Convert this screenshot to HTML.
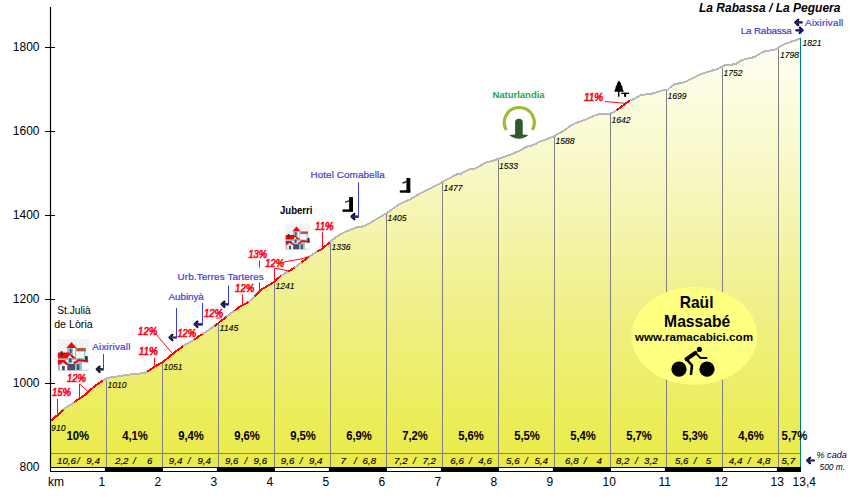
<!DOCTYPE html><html><head><meta charset="utf-8"><style>html,body{margin:0;padding:0;background:#fff;}svg{display:block;}</style></head><body>
<svg width="850" height="500" viewBox="0 0 850 500" font-family='"Liberation Sans", sans-serif'>
<defs><linearGradient id="fg" gradientUnits="userSpaceOnUse" x1="0" y1="38" x2="0" y2="467"><stop offset="0" stop-color="#FFFFF6"/><stop offset="0.331" stop-color="#F7F7C2"/><stop offset="0.611" stop-color="#F0F08C"/><stop offset="0.9" stop-color="#ECEC58"/><stop offset="1" stop-color="#EAEA48"/></linearGradient></defs>
<polygon points="50,421.5 55,417 58,415 60,413 63.5,409.6 65,408 70,405 74,402.5 75,401.5 80,398 85,395 90,390 95,386 100,382.5 103,380.5 105,379.3 108,377.8 115,376.8 120,376 125,375.2 130,374.5 135,374 140,373.5 144,373.2 147.5,371.6 155,366.5 160,363.5 162.5,362.2 170,356.2 175,352 180,348.5 183,346 190,342 194.5,339.6 200,335.5 202.5,334.4 210,329 214.5,326 218,323.5 220,321.5 223,319.5 226.3,316.8 230,314 234.5,310.8 240,306.5 245,304 248.3,302 252,299 255,296.4 262,289.2 269,285 274,282 281.2,275.4 288.4,271.5 294.4,267.6 301.6,262.2 308.8,256.8 317.2,251.4 322,249 329.5,242.3 335,238 340,234.5 345,232 350,230 355,228 359,226.8 362,226.8 365,225.5 370,223 375,220 380,217 385,214 390,211 395,207 400,204 405,201.5 410,199.5 415,196.5 420,193.5 425,191 430,188.5 435,186 440,183.5 445,180.5 450,178 455,175.2 458,173.7 461,173.7 465,171.5 470,169 475,168.5 480,166 485,162.8 490,161.6 495,160 498,159 500,158.4 505,156.5 510,155 515,152.8 520,150.5 525,147.8 527,146.6 530,146 535,144.2 540,141.6 545,139.8 550,138 554,136.2 557.5,134.3 560,132.8 565,130 570,126 575,123.5 580,121.5 585,120 590,117.5 595,115.5 598,114.5 605,114.3 610,113.5 613,112.5 616.5,110.2 630,100.5 635,98.5 640,95.5 645,94.5 650,94 655,93 660,91 665,89.8 668,89.5 670,87.5 675,84.2 680,83.2 685,82 690,79.5 695,77 700,74.5 705,73 710,71 715,70 720,68 723,66 725,65.3 730,65 735,64 738,63 740,61 745,59.2 750,58 755,57 760,53.5 765,51.2 770,50.5 775,49.5 778,48 780,46.5 785,44 790,42 795,40.5 800,38.5 800,467 50,467" fill="url(#fg)"/>
<line x1="50" y1="453.5" x2="800" y2="453.5" stroke="#808080" stroke-width="1"/>
<line x1="106.5" y1="378.8" x2="106.5" y2="467" stroke="#808080" stroke-width="1"/>
<line x1="162.5" y1="362.5" x2="162.5" y2="467" stroke="#808080" stroke-width="1"/>
<line x1="218.5" y1="323.5" x2="218.5" y2="467" stroke="#808080" stroke-width="1"/>
<line x1="274.5" y1="282.0" x2="274.5" y2="467" stroke="#808080" stroke-width="1"/>
<line x1="330.5" y1="241.9" x2="330.5" y2="467" stroke="#808080" stroke-width="1"/>
<line x1="386.5" y1="213.4" x2="386.5" y2="467" stroke="#808080" stroke-width="1"/>
<line x1="442.5" y1="182.3" x2="442.5" y2="467" stroke="#808080" stroke-width="1"/>
<line x1="498.5" y1="159.0" x2="498.5" y2="467" stroke="#808080" stroke-width="1"/>
<line x1="554.5" y1="136.2" x2="554.5" y2="467" stroke="#808080" stroke-width="1"/>
<line x1="610.5" y1="113.5" x2="610.5" y2="467" stroke="#808080" stroke-width="1"/>
<line x1="666.5" y1="89.7" x2="666.5" y2="467" stroke="#808080" stroke-width="1"/>
<line x1="722.5" y1="66.7" x2="722.5" y2="467" stroke="#808080" stroke-width="1"/>
<line x1="778.5" y1="48.0" x2="778.5" y2="467" stroke="#808080" stroke-width="1"/>
<line x1="800.5" y1="38" x2="800.5" y2="467" stroke="#008080" stroke-width="1"/>
<polyline points="50,421.5 55,417 58,415 60,413 63.5,409.6" fill="none" stroke="#FF0010" stroke-width="2" stroke-linejoin="round" stroke-linecap="butt" shape-rendering="crispEdges"/>
<polyline points="63.5,409.6 65,408 70,405 74,402.5" fill="none" stroke="#B8B8B8" stroke-width="2" stroke-linejoin="round" stroke-linecap="butt" shape-rendering="crispEdges"/>
<polyline points="74,402.5 75,401.5 80,398 85,395 90,390 95,386 100,382.5 103,380.5" fill="none" stroke="#FF0010" stroke-width="2" stroke-linejoin="round" stroke-linecap="butt" shape-rendering="crispEdges"/>
<polyline points="103,380.5 105,379.3 108,377.8 115,376.8 120,376 125,375.2 130,374.5 135,374 140,373.5 144,373.2 147.5,371.6" fill="none" stroke="#B8B8B8" stroke-width="2" stroke-linejoin="round" stroke-linecap="butt" shape-rendering="crispEdges"/>
<polyline points="147.5,371.6 155,366.5 160,363.5 162.5,362.2 170,356.2 175,352 180,348.5 183,346" fill="none" stroke="#FF0010" stroke-width="2" stroke-linejoin="round" stroke-linecap="butt" shape-rendering="crispEdges"/>
<polyline points="183,346 190,342 194.5,339.6" fill="none" stroke="#B8B8B8" stroke-width="2" stroke-linejoin="round" stroke-linecap="butt" shape-rendering="crispEdges"/>
<polyline points="194.5,339.6 200,335.5 202.5,334.4" fill="none" stroke="#FF0010" stroke-width="2" stroke-linejoin="round" stroke-linecap="butt" shape-rendering="crispEdges"/>
<polyline points="202.5,334.4 210,329 214.5,326" fill="none" stroke="#B8B8B8" stroke-width="2" stroke-linejoin="round" stroke-linecap="butt" shape-rendering="crispEdges"/>
<polyline points="214.5,326 218,323.5 220,321.5 223,319.5 226.3,316.8" fill="none" stroke="#FF0010" stroke-width="2" stroke-linejoin="round" stroke-linecap="butt" shape-rendering="crispEdges"/>
<polyline points="226.3,316.8 230,314 234.5,310.8" fill="none" stroke="#B8B8B8" stroke-width="2" stroke-linejoin="round" stroke-linecap="butt" shape-rendering="crispEdges"/>
<polyline points="234.5,310.8 240,306.5 245,304 248.3,302" fill="none" stroke="#FF0010" stroke-width="2" stroke-linejoin="round" stroke-linecap="butt" shape-rendering="crispEdges"/>
<polyline points="248.3,302 252,299 255,296.4" fill="none" stroke="#B8B8B8" stroke-width="2" stroke-linejoin="round" stroke-linecap="butt" shape-rendering="crispEdges"/>
<polyline points="255,296.4 262,289.2 269,285 274,282 281.2,275.4" fill="none" stroke="#FF0010" stroke-width="2" stroke-linejoin="round" stroke-linecap="butt" shape-rendering="crispEdges"/>
<polyline points="281.2,275.4 288.4,271.5" fill="none" stroke="#B8B8B8" stroke-width="2" stroke-linejoin="round" stroke-linecap="butt" shape-rendering="crispEdges"/>
<polyline points="288.4,271.5 294.4,267.6" fill="none" stroke="#FF0010" stroke-width="2" stroke-linejoin="round" stroke-linecap="butt" shape-rendering="crispEdges"/>
<polyline points="294.4,267.6 301.6,262.2" fill="none" stroke="#B8B8B8" stroke-width="2" stroke-linejoin="round" stroke-linecap="butt" shape-rendering="crispEdges"/>
<polyline points="301.6,262.2 308.8,256.8" fill="none" stroke="#FF0010" stroke-width="2" stroke-linejoin="round" stroke-linecap="butt" shape-rendering="crispEdges"/>
<polyline points="308.8,256.8 317.2,251.4" fill="none" stroke="#B8B8B8" stroke-width="2" stroke-linejoin="round" stroke-linecap="butt" shape-rendering="crispEdges"/>
<polyline points="317.2,251.4 322,249 329.5,242.3" fill="none" stroke="#FF0010" stroke-width="2" stroke-linejoin="round" stroke-linecap="butt" shape-rendering="crispEdges"/>
<polyline points="329.5,242.3 335,238 340,234.5 345,232 350,230 355,228 359,226.8 362,226.8 365,225.5 370,223 375,220 380,217 385,214 390,211 395,207 400,204 405,201.5 410,199.5 415,196.5 420,193.5 425,191 430,188.5 435,186 440,183.5 445,180.5 450,178 455,175.2 458,173.7 461,173.7 465,171.5 470,169 475,168.5 480,166 485,162.8 490,161.6 495,160 498,159 500,158.4 505,156.5 510,155 515,152.8 520,150.5 525,147.8 527,146.6 530,146 535,144.2 540,141.6 545,139.8 550,138 554,136.2 557.5,134.3 560,132.8 565,130 570,126 575,123.5 580,121.5 585,120 590,117.5 595,115.5 598,114.5 605,114.3 610,113.5 613,112.5 616.5,110.2" fill="none" stroke="#B8B8B8" stroke-width="2" stroke-linejoin="round" stroke-linecap="butt" shape-rendering="crispEdges"/>
<polyline points="616.5,110.2 630,100.5" fill="none" stroke="#FF0010" stroke-width="2" stroke-linejoin="round" stroke-linecap="butt" shape-rendering="crispEdges"/>
<polyline points="630,100.5 635,98.5 640,95.5 645,94.5 650,94 655,93 660,91 665,89.8 668,89.5 670,87.5 675,84.2 680,83.2 685,82 690,79.5 695,77 700,74.5 705,73 710,71 715,70 720,68 723,66 725,65.3 730,65 735,64 738,63 740,61 745,59.2 750,58 755,57 760,53.5 765,51.2 770,50.5 775,49.5 778,48 780,46.5 785,44 790,42 795,40.5 800,38.5" fill="none" stroke="#B8B8B8" stroke-width="2" stroke-linejoin="round" stroke-linecap="butt" shape-rendering="crispEdges"/>
<line x1="50.5" y1="7" x2="50.5" y2="471" stroke="#000" stroke-width="1.2"/>
<line x1="45" y1="383.5" x2="55" y2="383.5" stroke="#000" stroke-width="1"/>
<line x1="45" y1="299.5" x2="55" y2="299.5" stroke="#000" stroke-width="1"/>
<line x1="45" y1="215.5" x2="55" y2="215.5" stroke="#000" stroke-width="1"/>
<line x1="45" y1="131.5" x2="55" y2="131.5" stroke="#000" stroke-width="1"/>
<line x1="45" y1="47.5" x2="55" y2="47.5" stroke="#000" stroke-width="1"/>
<text x="39.5" y="471.2" font-size="12" text-anchor="end" fill="#000">800</text>
<text x="39.5" y="387.2" font-size="12" text-anchor="end" fill="#000">1000</text>
<text x="39.5" y="303.2" font-size="12" text-anchor="end" fill="#000">1200</text>
<text x="39.5" y="219.2" font-size="12" text-anchor="end" fill="#000">1400</text>
<text x="39.5" y="135.2" font-size="12" text-anchor="end" fill="#000">1600</text>
<text x="39.5" y="51.2" font-size="12" text-anchor="end" fill="#000">1800</text>
<rect x="50" y="467" width="751" height="5" fill="#000"/>
<rect x="51" y="468" width="54" height="3" fill="#fff"/>
<rect x="163" y="468" width="54" height="3" fill="#fff"/>
<rect x="275" y="468" width="54" height="3" fill="#fff"/>
<rect x="387" y="468" width="54" height="3" fill="#fff"/>
<rect x="499" y="468" width="54" height="3" fill="#fff"/>
<rect x="611" y="468" width="54" height="3" fill="#fff"/>
<rect x="723" y="468" width="54" height="3" fill="#fff"/>
<text x="48" y="486" font-size="12" fill="#000">km</text>
<text x="98.5" y="486" font-size="12" fill="#000">1</text>
<text x="154.5" y="486" font-size="12" fill="#000">2</text>
<text x="210.5" y="486" font-size="12" fill="#000">3</text>
<text x="266.5" y="486" font-size="12" fill="#000">4</text>
<text x="322.5" y="486" font-size="12" fill="#000">5</text>
<text x="378.5" y="486" font-size="12" fill="#000">6</text>
<text x="434.5" y="486" font-size="12" fill="#000">7</text>
<text x="490.5" y="486" font-size="12" fill="#000">8</text>
<text x="546.5" y="486" font-size="12" fill="#000">9</text>
<text x="602.5" y="486" font-size="12" fill="#000">10</text>
<text x="658.5" y="486" font-size="12" fill="#000">11</text>
<text x="714.5" y="486" font-size="12" fill="#000">12</text>
<text x="770.5" y="486" font-size="12" fill="#000">13</text>
<text x="792.6" y="486" font-size="12" fill="#000">13,4</text>
<text x="77.7" y="439.8" font-size="12" font-weight="bold" text-anchor="middle" fill="#000" textLength="22.62" lengthAdjust="spacingAndGlyphs">10%</text>
<text x="135" y="439.8" font-size="12" font-weight="bold" text-anchor="middle" fill="#000" textLength="25.75" lengthAdjust="spacingAndGlyphs">4,1%</text>
<text x="191" y="439.8" font-size="12" font-weight="bold" text-anchor="middle" fill="#000" textLength="25.75" lengthAdjust="spacingAndGlyphs">9,4%</text>
<text x="247" y="439.8" font-size="12" font-weight="bold" text-anchor="middle" fill="#000" textLength="25.75" lengthAdjust="spacingAndGlyphs">9,6%</text>
<text x="303" y="439.8" font-size="12" font-weight="bold" text-anchor="middle" fill="#000" textLength="25.75" lengthAdjust="spacingAndGlyphs">9,5%</text>
<text x="359" y="439.8" font-size="12" font-weight="bold" text-anchor="middle" fill="#000" textLength="25.75" lengthAdjust="spacingAndGlyphs">6,9%</text>
<text x="415" y="439.8" font-size="12" font-weight="bold" text-anchor="middle" fill="#000" textLength="25.75" lengthAdjust="spacingAndGlyphs">7,2%</text>
<text x="471" y="439.8" font-size="12" font-weight="bold" text-anchor="middle" fill="#000" textLength="25.75" lengthAdjust="spacingAndGlyphs">5,6%</text>
<text x="527" y="439.8" font-size="12" font-weight="bold" text-anchor="middle" fill="#000" textLength="25.75" lengthAdjust="spacingAndGlyphs">5,5%</text>
<text x="583" y="439.8" font-size="12" font-weight="bold" text-anchor="middle" fill="#000" textLength="25.75" lengthAdjust="spacingAndGlyphs">5,4%</text>
<text x="639" y="439.8" font-size="12" font-weight="bold" text-anchor="middle" fill="#000" textLength="25.75" lengthAdjust="spacingAndGlyphs">5,7%</text>
<text x="695" y="439.8" font-size="12" font-weight="bold" text-anchor="middle" fill="#000" textLength="25.75" lengthAdjust="spacingAndGlyphs">5,3%</text>
<text x="751" y="439.8" font-size="12" font-weight="bold" text-anchor="middle" fill="#000" textLength="25.75" lengthAdjust="spacingAndGlyphs">4,6%</text>
<text x="781.6" y="439.8" font-size="12" font-weight="bold" fill="#000" textLength="25.75" lengthAdjust="spacingAndGlyphs">5,7%</text>
<text x="57.0" y="463.8" font-size="9.7" font-style="italic" fill="#000" stroke="#000" stroke-width="0.15">10,6</text>
<text x="77.1" y="463.8" font-size="9.7" font-style="italic" fill="#000" stroke="#000" stroke-width="0.15">/</text>
<text x="86.3" y="463.8" font-size="9.7" font-style="italic" fill="#000" stroke="#000" stroke-width="0.15">9,4</text>
<text x="115.0" y="463.8" font-size="9.7" font-style="italic" fill="#000" stroke="#000" stroke-width="0.15">2,2</text>
<text x="133.0" y="463.8" font-size="9.7" font-style="italic" fill="#000" stroke="#000" stroke-width="0.15">/</text>
<text x="147.0" y="463.8" font-size="9.7" font-style="italic" fill="#000" stroke="#000" stroke-width="0.15">6</text>
<text x="168.8" y="463.8" font-size="9.7" font-style="italic" fill="#000" stroke="#000" stroke-width="0.15">9,4</text>
<text x="187.8" y="463.8" font-size="9.7" font-style="italic" fill="#000" stroke="#000" stroke-width="0.15">/</text>
<text x="197.4" y="463.8" font-size="9.7" font-style="italic" fill="#000" stroke="#000" stroke-width="0.15">9,4</text>
<text x="225.0" y="463.8" font-size="9.7" font-style="italic" fill="#000" stroke="#000" stroke-width="0.15">9,6</text>
<text x="244.4" y="463.8" font-size="9.7" font-style="italic" fill="#000" stroke="#000" stroke-width="0.15">/</text>
<text x="253.6" y="463.8" font-size="9.7" font-style="italic" fill="#000" stroke="#000" stroke-width="0.15">9,6</text>
<text x="280.8" y="463.8" font-size="9.7" font-style="italic" fill="#000" stroke="#000" stroke-width="0.15">9,6</text>
<text x="299.8" y="463.8" font-size="9.7" font-style="italic" fill="#000" stroke="#000" stroke-width="0.15">/</text>
<text x="309.0" y="463.8" font-size="9.7" font-style="italic" fill="#000" stroke="#000" stroke-width="0.15">9,4</text>
<text x="340.4" y="463.8" font-size="9.7" font-style="italic" fill="#000" stroke="#000" stroke-width="0.15">7</text>
<text x="354.1" y="463.8" font-size="9.7" font-style="italic" fill="#000" stroke="#000" stroke-width="0.15">/</text>
<text x="362.6" y="463.8" font-size="9.7" font-style="italic" fill="#000" stroke="#000" stroke-width="0.15">6,8</text>
<text x="394.1" y="463.8" font-size="9.7" font-style="italic" fill="#000" stroke="#000" stroke-width="0.15">7,2</text>
<text x="413.1" y="463.8" font-size="9.7" font-style="italic" fill="#000" stroke="#000" stroke-width="0.15">/</text>
<text x="422.4" y="463.8" font-size="9.7" font-style="italic" fill="#000" stroke="#000" stroke-width="0.15">7,2</text>
<text x="450.3" y="463.8" font-size="9.7" font-style="italic" fill="#000" stroke="#000" stroke-width="0.15">6,6</text>
<text x="469.1" y="463.8" font-size="9.7" font-style="italic" fill="#000" stroke="#000" stroke-width="0.15">/</text>
<text x="478.3" y="463.8" font-size="9.7" font-style="italic" fill="#000" stroke="#000" stroke-width="0.15">4,6</text>
<text x="506.1" y="463.8" font-size="9.7" font-style="italic" fill="#000" stroke="#000" stroke-width="0.15">5,6</text>
<text x="525.1" y="463.8" font-size="9.7" font-style="italic" fill="#000" stroke="#000" stroke-width="0.15">/</text>
<text x="534.4" y="463.8" font-size="9.7" font-style="italic" fill="#000" stroke="#000" stroke-width="0.15">5,4</text>
<text x="565.1" y="463.8" font-size="9.7" font-style="italic" fill="#000" stroke="#000" stroke-width="0.15">6,8</text>
<text x="583.8" y="463.8" font-size="9.7" font-style="italic" fill="#000" stroke="#000" stroke-width="0.15">/</text>
<text x="596.5" y="463.8" font-size="9.7" font-style="italic" fill="#000" stroke="#000" stroke-width="0.15">4</text>
<text x="616.0" y="463.8" font-size="9.7" font-style="italic" fill="#000" stroke="#000" stroke-width="0.15">8,2</text>
<text x="635.1" y="463.8" font-size="9.7" font-style="italic" fill="#000" stroke="#000" stroke-width="0.15">/</text>
<text x="644.1" y="463.8" font-size="9.7" font-style="italic" fill="#000" stroke="#000" stroke-width="0.15">3,2</text>
<text x="675.0" y="463.8" font-size="9.7" font-style="italic" fill="#000" stroke="#000" stroke-width="0.15">5,6</text>
<text x="693.8" y="463.8" font-size="9.7" font-style="italic" fill="#000" stroke="#000" stroke-width="0.15">/</text>
<text x="705.7" y="463.8" font-size="9.7" font-style="italic" fill="#000" stroke="#000" stroke-width="0.15">5</text>
<text x="728.8" y="463.8" font-size="9.7" font-style="italic" fill="#000" stroke="#000" stroke-width="0.15">4,4</text>
<text x="747.8" y="463.8" font-size="9.7" font-style="italic" fill="#000" stroke="#000" stroke-width="0.15">/</text>
<text x="757.0" y="463.8" font-size="9.7" font-style="italic" fill="#000" stroke="#000" stroke-width="0.15">4,8</text>
<text x="781.6" y="463.8" font-size="9.7" font-style="italic" fill="#000" stroke="#000" stroke-width="0.15">5,7</text>
<text x="51.1" y="430.6" font-size="8.6" font-style="italic" fill="#000" stroke="#000" stroke-width="0.12" textLength="14.5" lengthAdjust="spacingAndGlyphs">910</text>
<text x="107.4" y="387.5" font-size="8.6" font-style="italic" fill="#000" stroke="#000" stroke-width="0.12" textLength="19" lengthAdjust="spacingAndGlyphs">1010</text>
<text x="163.4" y="369.8" font-size="8.6" font-style="italic" fill="#000" stroke="#000" stroke-width="0.12" textLength="19" lengthAdjust="spacingAndGlyphs">1051</text>
<text x="219.4" y="330.7" font-size="8.6" font-style="italic" fill="#000" stroke="#000" stroke-width="0.12" textLength="19" lengthAdjust="spacingAndGlyphs">1145</text>
<text x="275.4" y="288.8" font-size="8.6" font-style="italic" fill="#000" stroke="#000" stroke-width="0.12" textLength="19" lengthAdjust="spacingAndGlyphs">1241</text>
<text x="331.5" y="250.1" font-size="8.6" font-style="italic" fill="#000" stroke="#000" stroke-width="0.12" textLength="19" lengthAdjust="spacingAndGlyphs">1336</text>
<text x="387.4" y="220.5" font-size="8.6" font-style="italic" fill="#000" stroke="#000" stroke-width="0.12" textLength="19" lengthAdjust="spacingAndGlyphs">1405</text>
<text x="443.4" y="191" font-size="8.6" font-style="italic" fill="#000" stroke="#000" stroke-width="0.12" textLength="19" lengthAdjust="spacingAndGlyphs">1477</text>
<text x="498.9" y="168.8" font-size="8.6" font-style="italic" fill="#000" stroke="#000" stroke-width="0.12" textLength="19" lengthAdjust="spacingAndGlyphs">1533</text>
<text x="555.4" y="143.8" font-size="8.6" font-style="italic" fill="#000" stroke="#000" stroke-width="0.12" textLength="19" lengthAdjust="spacingAndGlyphs">1588</text>
<text x="611.4" y="123" font-size="8.6" font-style="italic" fill="#000" stroke="#000" stroke-width="0.12" textLength="19" lengthAdjust="spacingAndGlyphs">1642</text>
<text x="667.4" y="98.8" font-size="8.6" font-style="italic" fill="#000" stroke="#000" stroke-width="0.12" textLength="19" lengthAdjust="spacingAndGlyphs">1699</text>
<text x="723.4" y="75.8" font-size="8.6" font-style="italic" fill="#000" stroke="#000" stroke-width="0.12" textLength="19" lengthAdjust="spacingAndGlyphs">1752</text>
<text x="779.9" y="57.5" font-size="8.6" font-style="italic" fill="#000" stroke="#000" stroke-width="0.12" textLength="19" lengthAdjust="spacingAndGlyphs">1798</text>
<text x="802.4" y="45.6" font-size="8.6" font-style="italic" fill="#000" stroke="#000" stroke-width="0.12" textLength="19" lengthAdjust="spacingAndGlyphs">1821</text>
<text x="699" y="11.6" font-size="12" font-weight="bold" font-style="italic" fill="#000">La Rabassa / La Peguera</text>
<text x="51.900000000000006" y="395.6" font-size="10.7" font-weight="normal" font-style="italic" fill="#FF0818" text-anchor="start" textLength="19.0" lengthAdjust="spacingAndGlyphs" stroke="#FF0818" stroke-width="0.65" >15%</text>
<polyline points="57.5,399 57.5,414" fill="none" stroke="#FF0818" stroke-width="1"/>
<text x="66.9" y="381.8" font-size="10.7" font-weight="normal" font-style="italic" fill="#FF0818" text-anchor="start" textLength="19.0" lengthAdjust="spacingAndGlyphs" stroke="#FF0818" stroke-width="0.65" >12%</text>
<polyline points="79.5,397 79.5,384 87.8,391" fill="none" stroke="#FF0818" stroke-width="1"/>
<text x="138.7" y="354.9" font-size="10.7" font-weight="normal" font-style="italic" fill="#FF0818" text-anchor="start" textLength="19.3" lengthAdjust="spacingAndGlyphs" stroke="#FF0818" stroke-width="0.65" >11%</text>
<polyline points="154.5,357.7 154.5,365.5" fill="none" stroke="#FF0818" stroke-width="1"/>
<text x="138.1" y="335" font-size="10.7" font-weight="normal" font-style="italic" fill="#FF0818" text-anchor="start" textLength="19.2" lengthAdjust="spacingAndGlyphs" stroke="#FF0818" stroke-width="0.65" >12%</text>
<polyline points="155,333 171.9,352.9" fill="none" stroke="#FF0818" stroke-width="1"/>
<text x="177.39999999999998" y="336.7" font-size="10.7" font-weight="normal" font-style="italic" fill="#FF0818" text-anchor="start" textLength="18.7" lengthAdjust="spacingAndGlyphs" stroke="#FF0818" stroke-width="0.65" >12%</text>
<text x="203.89999999999998" y="317.1" font-size="10.7" font-weight="normal" font-style="italic" fill="#FF0818" text-anchor="start" textLength="19.2" lengthAdjust="spacingAndGlyphs" stroke="#FF0818" stroke-width="0.65" >12%</text>
<polyline points="216.4,318 222,318" fill="none" stroke="#FF0818" stroke-width="1"/>
<text x="235.1" y="292" font-size="10.7" font-weight="normal" font-style="italic" fill="#FF0818" text-anchor="start" textLength="19.3" lengthAdjust="spacingAndGlyphs" stroke="#FF0818" stroke-width="0.65" >12%</text>
<polyline points="242.5,294.5 242.5,304.5" fill="none" stroke="#FF0818" stroke-width="1"/>
<text x="248.39999999999998" y="258" font-size="10.7" font-weight="normal" font-style="italic" fill="#FF0818" text-anchor="start" textLength="18.6" lengthAdjust="spacingAndGlyphs" stroke="#FF0818" stroke-width="0.65" >13%</text>
<polyline points="259.5,260.5 259.5,292" fill="none" stroke="#FF0818" stroke-width="1"/>
<text x="265.3" y="266.9" font-size="10.7" font-weight="normal" font-style="italic" fill="#FF0818" text-anchor="start" textLength="18.6" lengthAdjust="spacingAndGlyphs" stroke="#FF0818" stroke-width="0.65" >12%</text>
<polyline points="283.2,262.4 286,261.6 302,258.8 307.6,256.8" fill="none" stroke="#FF0818" stroke-width="1"/>
<polyline points="274.5,282 274.5,268.5 277.2,268.5 289.2,271.2" fill="none" stroke="#FF0818" stroke-width="1"/>
<text x="315.0" y="229.8" font-size="10.7" font-weight="normal" font-style="italic" fill="#FF0818" text-anchor="start" textLength="18.6" lengthAdjust="spacingAndGlyphs" stroke="#FF0818" stroke-width="0.65" >11%</text>
<polyline points="322.5,231.9 322.5,247.3" fill="none" stroke="#FF0818" stroke-width="1"/>
<text x="583.9000000000001" y="100.6" font-size="10.7" font-weight="normal" font-style="italic" fill="#FF0818" text-anchor="start" textLength="19.3" lengthAdjust="spacingAndGlyphs" stroke="#FF0818" stroke-width="0.65" >11%</text>
<polyline points="605,101.5 624.8,103.3" fill="none" stroke="#FF0818" stroke-width="1"/>
<path d="M103.0,369.3 L96.7,369.3 M99.60000000000001,366.6 L96.7,369.3 L99.60000000000001,372.0" fill="none" stroke="#000" stroke-width="2.2" stroke-linejoin="round" stroke-linecap="round"/>
<path d="M103.0,369.3 L96.7,369.3 M99.60000000000001,366.6 L96.7,369.3 L99.60000000000001,372.0" fill="none" stroke="#3434D0" stroke-width="0.8" stroke-linejoin="round" stroke-linecap="butt"/>
<line x1="103.5" y1="354" x2="103.5" y2="370.3" stroke="#3C3CE0" stroke-width="1"/>
<path d="M176.0,337.5 L169.5,337.5 M172.4,334.8 L169.5,337.5 L172.4,340.2" fill="none" stroke="#000" stroke-width="2.2" stroke-linejoin="round" stroke-linecap="round"/>
<path d="M176.0,337.5 L169.5,337.5 M172.4,334.8 L169.5,337.5 L172.4,340.2" fill="none" stroke="#3434D0" stroke-width="0.8" stroke-linejoin="round" stroke-linecap="butt"/>
<line x1="176.5" y1="308" x2="176.5" y2="338.5" stroke="#3C3CE0" stroke-width="1"/>
<path d="M202.0,324.3 L194.5,324.3 M197.4,321.6 L194.5,324.3 L197.4,327.0" fill="none" stroke="#000" stroke-width="2.2" stroke-linejoin="round" stroke-linecap="round"/>
<path d="M202.0,324.3 L194.5,324.3 M197.4,321.6 L194.5,324.3 L197.4,327.0" fill="none" stroke="#3434D0" stroke-width="0.8" stroke-linejoin="round" stroke-linecap="butt"/>
<line x1="202.5" y1="303" x2="202.5" y2="325.3" stroke="#3C3CE0" stroke-width="1"/>
<path d="M228.0,304.3 L221.5,304.3 M224.4,301.6 L221.5,304.3 L224.4,307.0" fill="none" stroke="#000" stroke-width="2.2" stroke-linejoin="round" stroke-linecap="round"/>
<path d="M228.0,304.3 L221.5,304.3 M224.4,301.6 L221.5,304.3 L224.4,307.0" fill="none" stroke="#3434D0" stroke-width="0.8" stroke-linejoin="round" stroke-linecap="butt"/>
<line x1="228.5" y1="285.4" x2="228.5" y2="305.3" stroke="#3C3CE0" stroke-width="1"/>
<path d="M358.0,216.6 L351.5,216.6 M354.4,213.9 L351.5,216.6 L354.4,219.29999999999998" fill="none" stroke="#000" stroke-width="2.2" stroke-linejoin="round" stroke-linecap="round"/>
<path d="M358.0,216.6 L351.5,216.6 M354.4,213.9 L351.5,216.6 L354.4,219.29999999999998" fill="none" stroke="#3434D0" stroke-width="0.8" stroke-linejoin="round" stroke-linecap="butt"/>
<line x1="358.5" y1="182.3" x2="358.5" y2="217.6" stroke="#3C3CE0" stroke-width="1"/>
<path d="M801.7,22.4 L795.3000000000001,22.4 M798.2,19.7 L795.3000000000001,22.4 L798.2,25.099999999999998" fill="none" stroke="#000" stroke-width="2.2" stroke-linejoin="round" stroke-linecap="round"/>
<path d="M801.7,22.4 L795.3000000000001,22.4 M798.2,19.7 L795.3000000000001,22.4 L798.2,25.099999999999998" fill="none" stroke="#3434D0" stroke-width="0.8" stroke-linejoin="round" stroke-linecap="butt"/>
<path d="M796.3,30.3 L802.6999999999999,30.3 M799.8,27.6 L802.6999999999999,30.3 L799.8,33.0" fill="none" stroke="#000" stroke-width="2.2" stroke-linejoin="round" stroke-linecap="round"/>
<path d="M796.3,30.3 L802.6999999999999,30.3 M799.8,27.6 L802.6999999999999,30.3 L799.8,33.0" fill="none" stroke="#3434D0" stroke-width="0.8" stroke-linejoin="round" stroke-linecap="butt"/>
<path d="M813.9,460.5 L807.1,460.5 M810.0,457.8 L807.1,460.5 L810.0,463.2" fill="none" stroke="#000" stroke-width="2.2" stroke-linejoin="round" stroke-linecap="round"/>
<path d="M813.9,460.5 L807.1,460.5 M810.0,457.8 L807.1,460.5 L810.0,463.2" fill="none" stroke="#3434D0" stroke-width="0.8" stroke-linejoin="round" stroke-linecap="butt"/>
<rect x="176" y="267.5" width="90" height="15" fill="#fff"/>
<text x="92.2" y="349.8" font-size="9.9" font-weight="normal" font-style="normal" fill="#3E3ED0" text-anchor="start" textLength="38.2" lengthAdjust="spacing" stroke="#3E3ED0" stroke-width="0.2" >Aixirivall</text>
<text x="168.5" y="299.9" font-size="9.9" font-weight="normal" font-style="normal" fill="#3E3ED0" text-anchor="start" textLength="35.3" lengthAdjust="spacing" stroke="#3E3ED0" stroke-width="0.2" >Aubinyà</text>
<text x="177.6" y="280.1" font-size="9.9" font-weight="normal" font-style="normal" fill="#3E3ED0" text-anchor="start" textLength="86.2" lengthAdjust="spacing" stroke="#3E3ED0" stroke-width="0.2" >Urb.Terres Tarteres</text>
<text x="310.5" y="178" font-size="9.9" font-weight="normal" font-style="normal" fill="#3E3ED0" text-anchor="start" textLength="74.2" lengthAdjust="spacing" stroke="#3E3ED0" stroke-width="0.2" >Hotel Comabella</text>
<text x="805.1" y="25.9" font-size="9.9" font-weight="normal" font-style="normal" fill="#3E3ED0" text-anchor="start" textLength="38.2" lengthAdjust="spacing" stroke="#3E3ED0" stroke-width="0.2" >Aixirivall</text>
<text x="740.7" y="33.9" font-size="9.9" font-weight="normal" font-style="normal" fill="#3E3ED0" text-anchor="start" textLength="51.1" lengthAdjust="spacing" stroke="#3E3ED0" stroke-width="0.2" >La Rabassa</text>
<text x="492.4" y="97.8" font-size="9.6" font-weight="bold" font-style="normal" fill="#22A650" text-anchor="start" textLength="52.2" lengthAdjust="spacingAndGlyphs" >Naturlandia</text>
<text x="280" y="213.8" font-size="10" font-weight="bold" font-style="normal" fill="#000" text-anchor="start" textLength="32.5" lengthAdjust="spacingAndGlyphs" >Juberri</text>
<text x="57.2" y="314.2" font-size="10.5" font-weight="normal" font-style="normal" fill="#000" text-anchor="start" textLength="33.6" lengthAdjust="spacingAndGlyphs" >St.Julià</text>
<text x="54.2" y="327.7" font-size="10.5" font-weight="normal" font-style="normal" fill="#000" text-anchor="start" textLength="38.5" lengthAdjust="spacingAndGlyphs" >de Lòria</text>
<text x="816.5" y="457.9" font-size="9.2" font-weight="normal" font-style="italic" fill="#000018" text-anchor="start" textLength="30.3" lengthAdjust="spacingAndGlyphs" >% cada</text>
<text x="819.5" y="469.9" font-size="9.2" font-weight="normal" font-style="italic" fill="#000018" text-anchor="start" textLength="25.5" lengthAdjust="spacingAndGlyphs" >500 m.</text>
<g transform="translate(57,339)"><rect x="0" y="0" width="32" height="32" fill="#F3F3F3"/>
<rect x="10.2" y="8.8" width="9" height="10.5" fill="#86C6D6"/>
<rect x="16" y="8.8" width="2" height="10" fill="#FFFFFF"/>
<rect x="12.8" y="10" width="1.8" height="4" fill="#4C4C6C"/>
<polygon points="14.5,3 9.4,8.9 19.6,8.9" fill="#FF0000"/>
<rect x="19.4" y="9" width="9.4" height="3.6" fill="#B05848"/>
<rect x="19.4" y="12.6" width="7.6" height="7" fill="#FFFFFF"/>
<rect x="26.9" y="12.6" width="1.2" height="7" fill="#86C6D6"/>
<rect x="1" y="19" width="30" height="2" fill="#86C6D6"/>
<polygon points="1,13.5 12,13.5 19.3,19.2 1,19.2" fill="#FF0000"/>
<polygon points="12.8,15.8 10.4,19.2 15.2,19.2" fill="#FFFFFF"/>
<rect x="11" y="19.2" width="4.2" height="5" fill="#86C6D6"/>
<rect x="12.2" y="19.2" width="2.3" height="4" fill="#4C4C6C"/>
<rect x="3.6" y="12.3" width="2.1" height="4.4" fill="#303030"/>
<polygon points="1,20.9 7.6,20.9 12.4,25.8 1,25.8" fill="#FF0000"/>
<polygon points="5.9,23.2 3,26.1 3,31.5 9.2,31.5 9.2,26.1" fill="#FFFFFF"/>
<rect x="1" y="25.8" width="2" height="5.8" fill="#86C6D6"/>
<rect x="5" y="27" width="2.8" height="4.8" fill="#4C4C6C"/>
<rect x="10.3" y="24.9" width="7.7" height="6.8" fill="#4C4C6C"/>
<rect x="18" y="22.5" width="7" height="9.2" fill="#86C6D6"/>
<rect x="25" y="23.4" width="6" height="6.4" fill="#FFFFFF"/>
<polygon points="15.8,23.4 21.8,19.9 31.2,21.4 31.2,23.6 22,22.2 17.2,25" fill="#FF0000"/>
<rect x="19.8" y="25.2" width="2.6" height="6.4" fill="#4C4C6C"/>
<rect x="28.2" y="17" width="2.4" height="4.6" fill="#2A2A2A"/>
<rect x="1" y="31.2" width="30" height="0.8" fill="#C8D8D8"/></g>
<g transform="translate(284.9,224.2) scale(0.8)"><rect x="0" y="0" width="32" height="32" fill="#F3F3F3"/>
<rect x="10.2" y="8.8" width="9" height="10.5" fill="#86C6D6"/>
<rect x="16" y="8.8" width="2" height="10" fill="#FFFFFF"/>
<rect x="12.8" y="10" width="1.8" height="4" fill="#4C4C6C"/>
<polygon points="14.5,3 9.4,8.9 19.6,8.9" fill="#FF0000"/>
<rect x="19.4" y="9" width="9.4" height="3.6" fill="#B05848"/>
<rect x="19.4" y="12.6" width="7.6" height="7" fill="#FFFFFF"/>
<rect x="26.9" y="12.6" width="1.2" height="7" fill="#86C6D6"/>
<rect x="1" y="19" width="30" height="2" fill="#86C6D6"/>
<polygon points="1,13.5 12,13.5 19.3,19.2 1,19.2" fill="#FF0000"/>
<polygon points="12.8,15.8 10.4,19.2 15.2,19.2" fill="#FFFFFF"/>
<rect x="11" y="19.2" width="4.2" height="5" fill="#86C6D6"/>
<rect x="12.2" y="19.2" width="2.3" height="4" fill="#4C4C6C"/>
<rect x="3.6" y="12.3" width="2.1" height="4.4" fill="#303030"/>
<polygon points="1,20.9 7.6,20.9 12.4,25.8 1,25.8" fill="#FF0000"/>
<polygon points="5.9,23.2 3,26.1 3,31.5 9.2,31.5 9.2,26.1" fill="#FFFFFF"/>
<rect x="1" y="25.8" width="2" height="5.8" fill="#86C6D6"/>
<rect x="5" y="27" width="2.8" height="4.8" fill="#4C4C6C"/>
<rect x="10.3" y="24.9" width="7.7" height="6.8" fill="#4C4C6C"/>
<rect x="18" y="22.5" width="7" height="9.2" fill="#86C6D6"/>
<rect x="25" y="23.4" width="6" height="6.4" fill="#FFFFFF"/>
<polygon points="15.8,23.4 21.8,19.9 31.2,21.4 31.2,23.6 22,22.2 17.2,25" fill="#FF0000"/>
<rect x="19.8" y="25.2" width="2.6" height="6.4" fill="#4C4C6C"/>
<rect x="28.2" y="17" width="2.4" height="4.6" fill="#2A2A2A"/>
<rect x="1" y="31.2" width="30" height="0.8" fill="#C8D8D8"/></g>
<rect x="349.1" y="197.1" width="3.9" height="14.4" fill="#000"/>
<rect x="342.5" y="209.4" width="10.5" height="2.4" fill="#000"/>
<line x1="345.20000000000005" y1="202.2" x2="349.1" y2="200.7" stroke="#000" stroke-width="1.2"/>
<rect x="406.4" y="178" width="3.9" height="14.4" fill="#000"/>
<rect x="399.79999999999995" y="190.3" width="10.5" height="2.4" fill="#000"/>
<line x1="402.5" y1="183.1" x2="406.4" y2="181.6" stroke="#000" stroke-width="1.2"/>
<path d="M619,80.5 L621.3,83.8 L620.9,84.2 L622.7,87.2 L622.2,87.6 L623.8,91.7 L614.2,91.7 L615.8,87.6 L615.3,87.2 L617.1,84.2 L616.7,83.8 Z" fill="#000"/>
<rect x="618" y="91" width="1.4" height="5.8" fill="#000"/>
<rect x="621.2" y="92.6" width="7.8" height="1.4" fill="#000"/>
<rect x="624.1" y="93.5" width="2" height="3.3" fill="#000"/>
<path d="M506.3,130 A15,15 0 1 1 532.3,130" fill="none" stroke="#9DBB35" stroke-width="3.2"/>
<path d="M515.1,134.6 L515.1,122.3 Q515.1,118.8 518.9,118.8 Q522.7,118.8 522.7,122.3 L522.7,134.6 L528.4,135 Q524,138.8 518.9,138.8 Q513.8,138.8 509.3,135 Z" fill="#2E5A2E"/>
<ellipse cx="694.3" cy="335.9" rx="62.9" ry="48.9" fill="#FFFF80"/>
<text x="696.6" y="308" font-size="16.4" font-weight="bold" font-style="normal" fill="#000" text-anchor="middle" textLength="33.8" lengthAdjust="spacingAndGlyphs" >Raül</text>
<text x="697.2" y="326.6" font-size="16.4" font-weight="bold" font-style="normal" fill="#000" text-anchor="middle" textLength="66.2" lengthAdjust="spacingAndGlyphs" >Massabé</text>
<text x="694" y="341.2" font-size="11.5" font-weight="bold" font-style="normal" fill="#000" text-anchor="middle" textLength="118" lengthAdjust="spacingAndGlyphs" >www.ramacabici.com</text>
<circle cx="679" cy="369.2" r="7.6" fill="#000"/><circle cx="707" cy="369.2" r="7.6" fill="#000"/><circle cx="699.4" cy="349.4" r="2.6" fill="#000"/>
<path d="M686.5,359.2 L695.4,352.8" stroke="#000" stroke-width="4" stroke-linecap="round"/>
<path d="M695.4,352.8 L700.6,358 L706.6,358" stroke="#000" stroke-width="1.8" fill="none" stroke-linecap="round" stroke-linejoin="round"/>
<path d="M686.5,359.2 L692,365.5 L691,374" stroke="#000" stroke-width="2.6" fill="none" stroke-linecap="round" stroke-linejoin="round"/>
</svg></body></html>
